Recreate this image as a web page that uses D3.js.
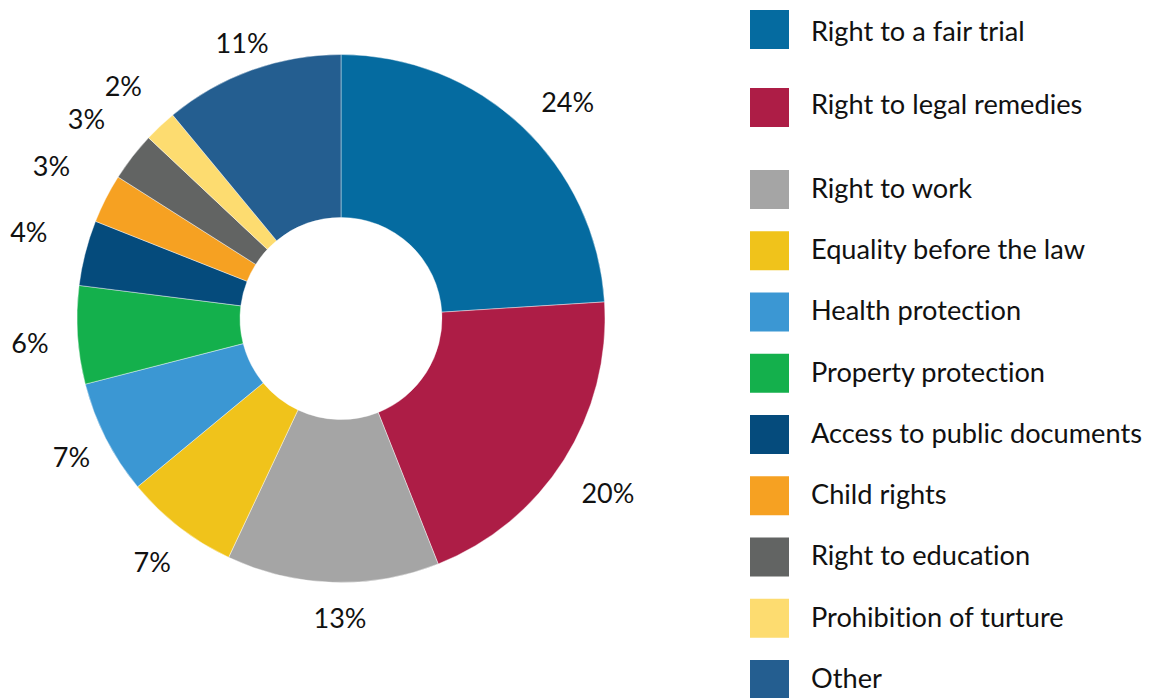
<!DOCTYPE html>
<html><head><meta charset="utf-8">
<script src="https://cdn.jsdelivr.net/npm/d3@7"></script>
<style>html,body{margin:0;padding:0;background:#fff;}svg{display:block;}text{font-variant-ligatures:none;font-feature-settings:"liga" 0;}</style>
</head><body>
<svg id="chart" width="1156" height="698"></svg>
<script>
const categories = ["Right to a fair trial","Right to legal remedies","Right to work","Equality before the law","Health protection","Property protection","Access to public documents","Child rights","Right to education","Prohibition of turture","Other"];
const values = [24,20,13,7,7,6,4,3,3,2,11];
const colors = ["#056ba0","#ad1d46","#a5a5a5","#f0c31b","#3b97d3","#14b04c","#054b7c","#f6a122","#626463","#fddc70","#245e90"];
// label placement (layout): radial distance of label centre, small angular nudge (deg)
const labelRadius = [313,319,300,308,303,312,324,327,323,318,292];
const labelNudge = [3.2,0.8,-1.6,0,-0.2,-0.9,1.1,0.7,0.2,0,0];

const FONT = "Lato, 'Open Sans', sans-serif";
const svg = d3.select("#chart");
const cx = 341, cy = 318.5, R = 264, r0 = 101;
const g = svg.append("g").attr("transform",`translate(${cx},${cy})`);
const pie = d3.pie().sort(null).value(d=>d);
const arcs = pie(values);
const arc = d3.arc().innerRadius(r0).outerRadius(R);
g.selectAll("path").data(arcs).join("path")
  .attr("d",arc).attr("fill",(d,i)=>colors[i])
  .attr("stroke","rgba(255,255,255,0.6)").attr("stroke-width",0.7);

g.selectAll("text.lab").data(arcs).join("text").attr("class","lab")
  .each(function(d,i){
    const a = (d.startAngle+d.endAngle)/2 + labelNudge[i]*Math.PI/180;
    const rr = labelRadius[i];
    d3.select(this).attr("x",rr*Math.sin(a)).attr("y",-rr*Math.cos(a));
  })
  .attr("text-anchor","middle").attr("dy","0.36em")
  .attr("font-family",FONT).attr("font-size",27).attr("fill","#111")
  .text(d=>d.value+"%");

const legendY = i => i===0 ? 10 : i===1 ? 88 : 170 + 61.25*(i-2);
const textY = i => i===0 ? 30.5 : i===1 ? 25.5 : 27.8;
const lg = svg.append("g");
const rows = lg.selectAll("g").data(categories).join("g")
  .attr("transform",(d,i)=>`translate(750,${legendY(i)})`);
rows.append("rect").attr("width",39).attr("height",39).attr("fill",(d,i)=>colors[i]);
rows.append("text").attr("x",61).attr("y",(d,i)=>textY(i))
  .attr("font-family",FONT).attr("font-size",27.2).attr("fill","#111").text(d=>d);
</script>
</body></html>
